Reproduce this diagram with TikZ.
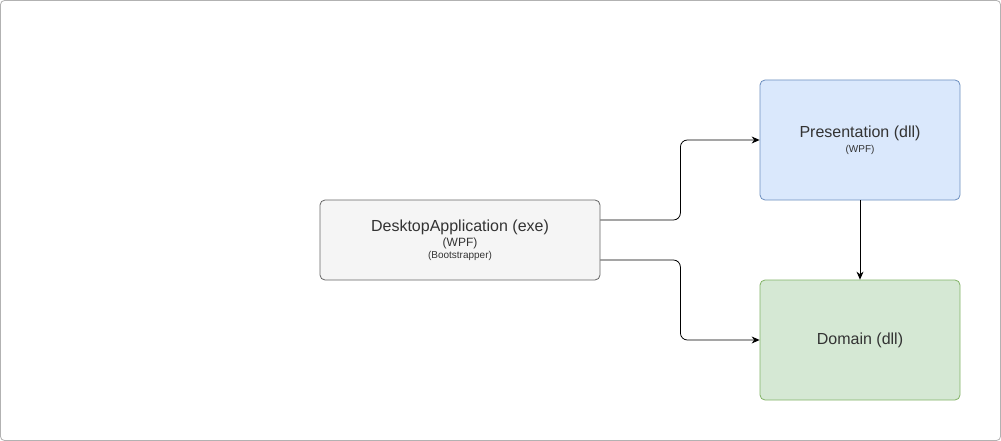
\documentclass[tikz,border=0pt]{standalone}
\usepackage{fontspec}
\setmainfont{Liberation Sans}
\usetikzlibrary{arrows.meta}
\definecolor{txtgray}{HTML}{333333}
\definecolor{deskfill}{HTML}{F5F5F5}
\definecolor{deskline}{HTML}{666666}
\definecolor{presfill}{HTML}{DAE8FC}
\definecolor{presline}{HTML}{6C8EBF}
\definecolor{domfill}{HTML}{D5E8D4}
\definecolor{domline}{HTML}{82B366}
\tikzset{
    modulo/.style={draw, rounded corners=5pt, line width=0.8pt, align=center,
        text=txtgray, inner sep=0pt},
    flecha/.style={-{Stealth[length=8pt,width=7pt]}, line width=0.8pt, rounded corners=7pt}
}
\begin{document}
\begin{tikzpicture}[x=1pt,y=-1pt]
            % Marco
            \useasboundingbox (0,0) rectangle (1001,441);
            \draw[fill=white, draw=black!30, line width=0.8pt, rounded corners=4pt] (0.5,0.5) rectangle (1000.5,440.5);

            % Modulos
            \node[modulo, fill=deskfill, draw=deskline, minimum width=280pt, minimum height=80pt] (desk) at (460,240)
                {\fontsize{16}{18}\selectfont DesktopApplication (exe)\\[2pt]
                 \fontsize{12}{14}\selectfont (WPF)\\[0pt]
                 \fontsize{10}{12}\selectfont (Bootstrapper)};
            \node[modulo, fill=presfill, draw=presline, minimum width=200pt, minimum height=120pt] (pres) at (860,140)
                {\fontsize{16}{18}\selectfont Presentation (dll)\\[3pt]
                 \fontsize{10}{12}\selectfont (WPF)};
            \node[modulo, fill=domfill, draw=domline, minimum width=200pt, minimum height=120pt] (dom) at (860,340)
                {\fontsize{16}{18}\selectfont Domain (dll)};

            % Dependencias
            \draw[flecha] ([yshift=20pt]desk.east) -- ++(80,0) |- (pres.west);
            \draw[flecha] ([yshift=-20pt]desk.east) -- ++(80,0) |- (dom.west);
            \draw[flecha] (pres.south) -- (dom.north);
        \end{tikzpicture}
\end{document}
